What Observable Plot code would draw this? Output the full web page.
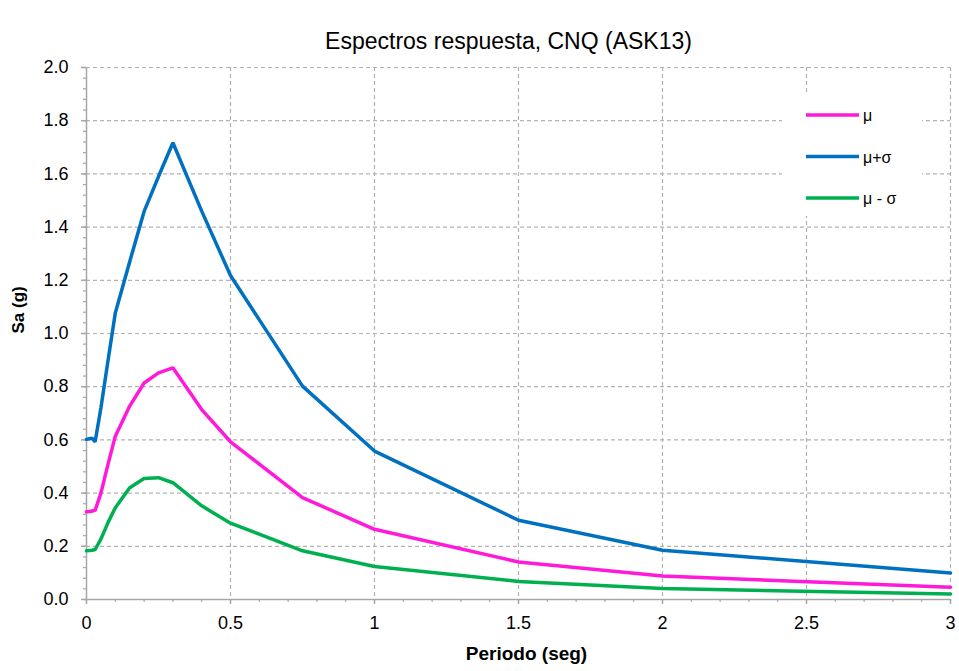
<!DOCTYPE html>
<html>
<head>
<meta charset="utf-8">
<script src="https://cdn.jsdelivr.net/npm/d3@7"></script>
<script src="https://cdn.jsdelivr.net/npm/@observablehq/plot@0.6"></script>
<style>
  body { margin: 0; background: #fff; font-family: "Liberation Sans", Arial, sans-serif; }
  #chart { position: relative; width: 959px; height: 671px; }
  #legend { position: absolute; left: 782px; top: 94px; width: 140px; height: 122px; background: #fff; }
</style>
</head>
<body>
<div id="chart"></div>
<script>
// Spectral periods (s)
const periods = [0, 0.01, 0.02, 0.03, 0.05, 0.075, 0.1, 0.15, 0.2, 0.25, 0.3, 0.4, 0.5, 0.75, 1, 1.5, 2, 3];
// Spectral accelerations Sa (g)
const mu      = [0.330, 0.331, 0.333, 0.335, 0.400, 0.510, 0.614, 0.727, 0.814, 0.852, 0.871, 0.714, 0.593, 0.383, 0.264, 0.141, 0.088, 0.046];
const muPlus  = [0.602, 0.604, 0.606, 0.593, 0.720, 0.900, 1.077, 1.270, 1.459, 1.590, 1.717, 1.460, 1.218, 0.802, 0.558, 0.298, 0.185, 0.100];
const muMinus = [0.183, 0.184, 0.185, 0.188, 0.227, 0.290, 0.345, 0.420, 0.455, 0.458, 0.439, 0.352, 0.287, 0.183, 0.124, 0.068, 0.041, 0.021];

const seriesNames  = ["μ", "μ+σ", "μ - σ"];
const seriesColors = ["#ff19d9", "#0070c0", "#00b050"];

const xTicks = [0, 0.5, 1, 1.5, 2, 2.5, 3];
const xTickLabels = ["0", "0.5", "1", "1.5", "2", "2.5", "3"];
const yTicks = [0, 0.2, 0.4, 0.6, 0.8, 1.0, 1.2, 1.4, 1.6, 1.8, 2.0];
const yTickLabels = ["0.0", "0.2", "0.4", "0.6", "0.8", "1.0", "1.2", "1.4", "1.6", "1.8", "2.0"];
const xMinor = d3.range(0, 31).map(i => i / 10);
const yMinor = d3.range(0, 51).map(i => i * 0.04);

const title = "Espectros respuesta, CNQ (ASK13)";
const xLabel = "Periodo (seg)";
const yLabel = "Sa (g)";

// long-format table built from the series arrays
const rows = [];
[mu, muPlus, muMinus].forEach((vals, s) => {
  periods.forEach((t, i) => rows.push({ T: t, Sa: vals[i], serie: seriesNames[s] }));
});

const axisGray = "#a6a6a6";
const gridGray = "#b3b3b3";

const plot = Plot.plot({
  width: 959,
  height: 671,
  marginLeft: 86,
  marginRight: 9,
  marginTop: 67,
  marginBottom: 72,
  style: { fontFamily: "'Liberation Sans', Arial, sans-serif", fontSize: "18px", color: "#000" },
  x: { domain: [0, 3] },
  y: { domain: [0, 2] },
  color: { domain: seriesNames, range: seriesColors },
  marks: [
    Plot.gridY(yTicks.slice(1), { stroke: gridGray, strokeOpacity: 1, strokeDasharray: "4,3", strokeWidth: 1.2 }),
    Plot.gridX(xTicks.slice(1), { stroke: gridGray, strokeOpacity: 1, strokeDasharray: "4,3", strokeWidth: 1.2 }),
    // minor ticks
    Plot.axisY(yMinor, { tickSize: 3, stroke: axisGray, strokeWidth: 1.2, tickFormat: () => "", label: null }),
    Plot.axisX(xMinor, { tickSize: 3, stroke: axisGray, strokeWidth: 1.2, tickFormat: () => "", label: null }),
    // major ticks
    Plot.axisY(yTicks, { tickSize: 5, stroke: axisGray, strokeWidth: 1.5, tickFormat: () => "", label: null }),
    Plot.axisX(xTicks, { tickSize: 5, stroke: axisGray, strokeWidth: 1.5, tickFormat: () => "", label: null }),
    // tick labels
    Plot.axisY(yTicks, { tickSize: 0, tickPadding: 18, fontSize: 18, tickFormat: d => yTickLabels[yTicks.indexOf(d)], label: null }),
    Plot.axisX(xTicks, { tickSize: 0, tickPadding: 17, fontSize: 18, tickFormat: d => xTickLabels[xTicks.indexOf(d)], label: null }),
    // axis lines
    Plot.ruleY([0], { stroke: axisGray, strokeWidth: 1.5 }),
    Plot.ruleX([0], { stroke: axisGray, strokeWidth: 1.5 }),
    // series
    Plot.line(rows, { x: "T", y: "Sa", z: "serie", stroke: "serie", strokeWidth: 3.5, strokeLinejoin: "miter" }),
    // titles
    Plot.text([title], { text: d => d, frameAnchor: "top", dy: -35, dx: -10, fontSize: 23 }),
    Plot.text([xLabel], { text: d => d, frameAnchor: "bottom", dy: 60, dx: 8, fontSize: 19, fontWeight: "bold" }),
    Plot.text([yLabel], { text: d => d, frameAnchor: "left", dx: -68, dy: 0, rotate: -90, fontSize: 17, fontWeight: "bold" })
  ]
});

const chart = document.getElementById("chart");
chart.appendChild(plot);

// legend box drawn over the upper-right of the plot area
const legend = document.createElement("div");
legend.id = "legend";
const ns = "http://www.w3.org/2000/svg";
const lsvg = document.createElementNS(ns, "svg");
lsvg.setAttribute("width", 140);
lsvg.setAttribute("height", 122);
seriesNames.forEach((name, i) => {
  const y = 21 + i * 41.5;
  const line = document.createElementNS(ns, "line");
  line.setAttribute("x1", 24); line.setAttribute("x2", 77);
  line.setAttribute("y1", y); line.setAttribute("y2", y);
  line.setAttribute("stroke", seriesColors[i]);
  line.setAttribute("stroke-width", 3.5);
  lsvg.appendChild(line);
  const t = document.createElementNS(ns, "text");
  t.setAttribute("x", 81); t.setAttribute("y", y + 6);
  t.setAttribute("font-size", 16);
  t.setAttribute("font-family", "'Liberation Sans', Arial, sans-serif");
  t.textContent = name;
  lsvg.appendChild(t);
});
legend.appendChild(lsvg);
chart.appendChild(legend);
</script>
</body>
</html>
